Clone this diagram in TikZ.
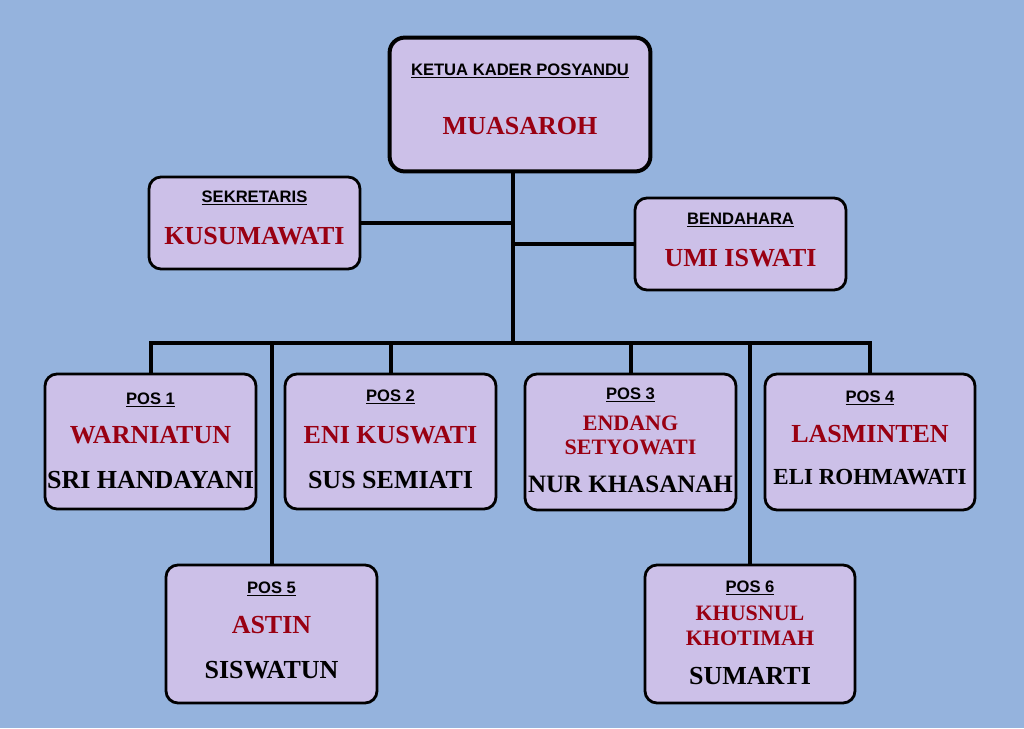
\documentclass[tikz,border=0pt]{standalone}
\usepackage{fontspec}
\setmainfont{Liberation Serif}
\setsansfont{Liberation Sans}
\definecolor{bgblue}{RGB}{149,179,221}
\definecolor{boxfill}{RGB}{204,192,232}
\definecolor{namered}{RGB}{153,0,18}
\tikzstyle{cbox}    = [fill=boxfill, draw=black, line width=2.8pt, rounded corners=12pt]
\tikzstyle{cline}   = [draw=black, line width=4pt]
\tikzstyle{jabatan} = [font=\sffamily\bfseries\fontsize{16.6}{18}\selectfont, inner sep=0pt, anchor=base]
\tikzstyle{nred}    = [text=namered, font=\bfseries\fontsize{26}{28}\selectfont, inner sep=0pt, anchor=base]
\tikzstyle{nredsm}  = [text=namered, font=\bfseries\fontsize{22}{24}\selectfont, inner sep=0pt, anchor=base]
\tikzstyle{nblack}  = [font=\bfseries\fontsize{26}{28}\selectfont, inner sep=0pt, anchor=base]
\def\garis#1{\vtop{\hbox{#1}\kern1.6pt\hrule height1.6pt}}
\def\kotak#1#2#3#4#5{
  \node[cbox, minimum width=#4-#2, minimum height=#5-#3] (#1) at ({(#2+#4)/2},{(#3+#5)/2}) {};
}
\begin{document}
\begin{tikzpicture}[x=1pt,y=-1pt]
    \fill[bgblue] (0,0) rectangle (1024,728);
    \useasboundingbox (0,0) rectangle (1024,728);
    % connectors
    \coordinate (trunk) at (513,343);
    \kotak{ketua}{391}{39}{649}{170}
    \kotak{sekre}{149}{177}{360}{269}
    \kotak{benda}{635}{198}{846}{290}
    \kotak{pos1}{45}{374}{256}{509}
    \kotak{pos2}{285}{374}{496}{509}
    \kotak{pos3}{525}{374}{736}{510}
    \kotak{pos4}{765}{374}{975}{510}
    \kotak{pos5}{166}{565}{377}{703}
    \kotak{pos6}{645}{565}{855}{703}
    \draw[cline] (ketua.south -| trunk) -- (trunk);
    \draw[cline] (sekre.east) -- (sekre.east -| trunk);
    \draw[cline] (benda.west) -- (benda.west -| trunk);
    \draw[cline] (pos1.north) |- (pos4.north |- trunk) -- (pos4.north);
    \foreach \p in {pos2, pos3, pos5, pos6}
      \draw[cline] (\p.north) -- (\p.north |- trunk);
    \draw[cbox, line width=4pt, rounded corners=15pt] (ketua.north west) rectangle (ketua.south east);
    % texts
    \node[jabatan] (ketua-j) at (520,75)  {\garis{KETUA KADER POSYANDU}};
    \node[nred]    (ketua-n) at (520,134) {MUASAROH};
    \node[jabatan] (sekre-j) at (254.5,202) {\garis{SEKRETARIS}};
    \node[nred]    (sekre-n) at (254.5,244) {KUSUMAWATI};
    \node[jabatan] (benda-j) at (740.5,224) {\garis{BENDAHARA}};
    \node[nred]    (benda-n) at (740.5,266) {UMI ISWATI};
    \node[jabatan] (pos1-j) at (150.5,404) {\garis{POS 1}};
    \node[nred]    (pos1-n) at (150.5,443) {WARNIATUN};
    \node[nblack]  (pos1-m) at (150.5,488) {SRI HANDAYANI};
    \node[jabatan] (pos2-j) at (390.5,401) {\garis{POS 2}};
    \node[nred]    (pos2-n) at (390.5,443) {ENI KUSWATI};
    \node[nblack]  (pos2-m) at (390.5,488) {SUS SEMIATI};
    \node[jabatan] (pos3-j) at (630.5,399) {\garis{POS 3}};
    \node[nredsm]  (pos3-n) at (630.5,430) {ENDANG};
    \node[nredsm]  (pos3-o) at (630.5,454) {SETYOWATI};
    \node[nblack, font=\bfseries\fontsize{25}{27}\selectfont] (pos3-m) at (630.5,492) {NUR KHASANAH};
    \node[jabatan] (pos4-j) at (870,402) {\garis{POS 4}};
    \node[nred]    (pos4-n) at (870,442) {LASMINTEN};
    \node[nblack, font=\bfseries\fontsize{23}{25}\selectfont] (pos4-m) at (870,484) {ELI ROHMAWATI};
    \node[jabatan] (pos5-j) at (271.5,593) {\garis{POS 5}};
    \node[nred]    (pos5-n) at (271.5,633) {ASTIN};
    \node[nblack]  (pos5-m) at (271.5,678) {SISWATUN};
    \node[jabatan] (pos6-j) at (750,592) {\garis{POS 6}};
    \node[nredsm]  (pos6-n) at (750,620) {KHUSNUL};
    \node[nredsm]  (pos6-o) at (750,645) {KHOTIMAH};
    \node[nblack]  (pos6-m) at (750,684) {SUMARTI};
  \end{tikzpicture}
\end{document}
